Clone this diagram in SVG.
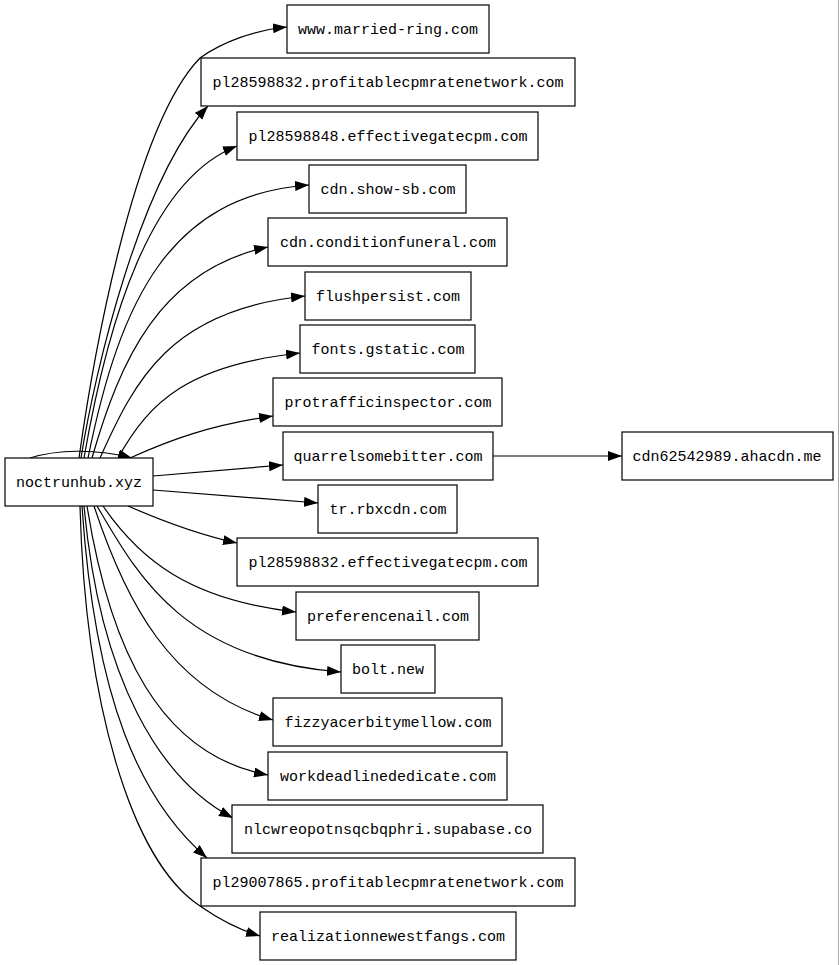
<svg xmlns="http://www.w3.org/2000/svg" width="839" height="965" viewBox="0 0 839 965">
<defs>
<style>
.n rect{fill:#fff;stroke:#000;stroke-width:1.2}
.n text{font-family:"Liberation Mono","DejaVu Sans Mono",monospace;font-size:15px;fill:#000;text-anchor:middle}
.e path{fill:none;stroke:#000;stroke-width:1.2}
</style>
<marker id="a" markerUnits="userSpaceOnUse" markerWidth="16" markerHeight="12" refX="14" refY="5" orient="auto">
<path d="M0,0 L14,5 L0,10 z" fill="#000"/>
</marker>
</defs>
<rect width="839" height="965" fill="#fff"/>
<line x1="838.5" y1="0" x2="838.5" y2="965" stroke="#aaa" stroke-width="1"/>
<g id="edges" class="e">
<path marker-end="url(#a)" d="M79,458 C90,380 130,130 200,58 C222,42 255,30 287,27"/>
<path marker-end="url(#a)" d="M81,458 C95,370 140,180 208,106"/>
<path marker-end="url(#a)" d="M84,458 C108,320 150,180 237,146"/>
<path marker-end="url(#a)" d="M88,458 C120,300 170,195 309,185"/>
<path marker-end="url(#a)" d="M92,458 C120,360 160,270 268,247"/>
<path marker-end="url(#a)" d="M100,458 C135,380 170,310 305,296"/>
<path marker-end="url(#a)" d="M118,458 C150,400 190,365 300,353"/>
<path marker-end="url(#a)" d="M130,458 C170,440 210,425 273,416"/>
<path marker-end="url(#a)" d="M30,458 C55,450 95,448 132,458"/>
<path marker-end="url(#a)" d="M153,476 L283,465"/>
<path marker-end="url(#a)" d="M153,490 L318,503"/>
<path marker-end="url(#a)" d="M128,506 C160,520 200,535 237,543"/>
<path marker-end="url(#a)" d="M103,506 C140,560 190,600 296,612"/>
<path marker-end="url(#a)" d="M97,506 C135,570 180,660 341,672"/>
<path marker-end="url(#a)" d="M94,506 C125,600 170,690 273,720"/>
<path marker-end="url(#a)" d="M87,506 C110,650 160,755 268,775"/>
<path marker-end="url(#a)" d="M84,506 C100,680 160,780 233,818"/>
<path marker-end="url(#a)" d="M82,506 C95,700 140,800 207,858"/>
<path marker-end="url(#a)" d="M80,506 C85,700 130,860 200,906 C220,920 240,930 260,936"/>
<path marker-end="url(#a)" d="M493,456 L622,456"/>
</g>
<g id="noctrunhub" class="n"><rect x="5" y="458" width="148" height="48"/><text x="79" y="487">noctrunhub.xyz</text></g>
<g id="n1" class="n"><rect x="287" y="5" width="202" height="48"/><text x="388" y="34">www.married-ring.com</text></g>
<g id="n2" class="n"><rect x="201" y="58" width="374" height="48"/><text x="388" y="87">pl28598832.profitablecpmratenetwork.com</text></g>
<g id="n3" class="n"><rect x="237" y="112" width="301" height="48"/><text x="388" y="141">pl28598848.effectivegatecpm.com</text></g>
<g id="n4" class="n"><rect x="309" y="165" width="157" height="48"/><text x="388" y="194">cdn.show-sb.com</text></g>
<g id="n5" class="n"><rect x="268" y="218" width="239" height="48"/><text x="388" y="247">cdn.conditionfuneral.com</text></g>
<g id="n6" class="n"><rect x="305" y="272" width="166" height="48"/><text x="388" y="301">flushpersist.com</text></g>
<g id="n7" class="n"><rect x="300" y="325" width="175" height="48"/><text x="388" y="354">fonts.gstatic.com</text></g>
<g id="n8" class="n"><rect x="273" y="378" width="229" height="48"/><text x="388" y="407">protrafficinspector.com</text></g>
<g id="n9" class="n"><rect x="283" y="432" width="210" height="48"/><text x="388" y="461">quarrelsomebitter.com</text></g>
<g id="n10" class="n"><rect x="318" y="485" width="139" height="48"/><text x="388" y="514">tr.rbxcdn.com</text></g>
<g id="n11" class="n"><rect x="237" y="538" width="301" height="48"/><text x="388" y="567">pl28598832.effectivegatecpm.com</text></g>
<g id="n12" class="n"><rect x="296" y="592" width="183" height="48"/><text x="388" y="621">preferencenail.com</text></g>
<g id="n13" class="n"><rect x="341" y="645" width="94" height="48"/><text x="388" y="674">bolt.new</text></g>
<g id="n14" class="n"><rect x="273" y="698" width="229" height="48"/><text x="388" y="727">fizzyacerbitymellow.com</text></g>
<g id="n15" class="n"><rect x="268" y="752" width="239" height="48"/><text x="388" y="781">workdeadlinededicate.com</text></g>
<g id="n16" class="n"><rect x="232" y="805" width="311" height="48"/><text x="388" y="834">nlcwreopotnsqcbqphri.supabase.co</text></g>
<g id="n17" class="n"><rect x="201" y="858" width="374" height="48"/><text x="388" y="887">pl29007865.profitablecpmratenetwork.com</text></g>
<g id="n18" class="n"><rect x="260" y="912" width="256" height="48"/><text x="388" y="941">realizationnewestfangs.com</text></g>
<g id="n19" class="n"><rect x="622" y="432" width="211" height="48"/><text x="727" y="461">cdn62542989.ahacdn.me</text></g>
</svg>
